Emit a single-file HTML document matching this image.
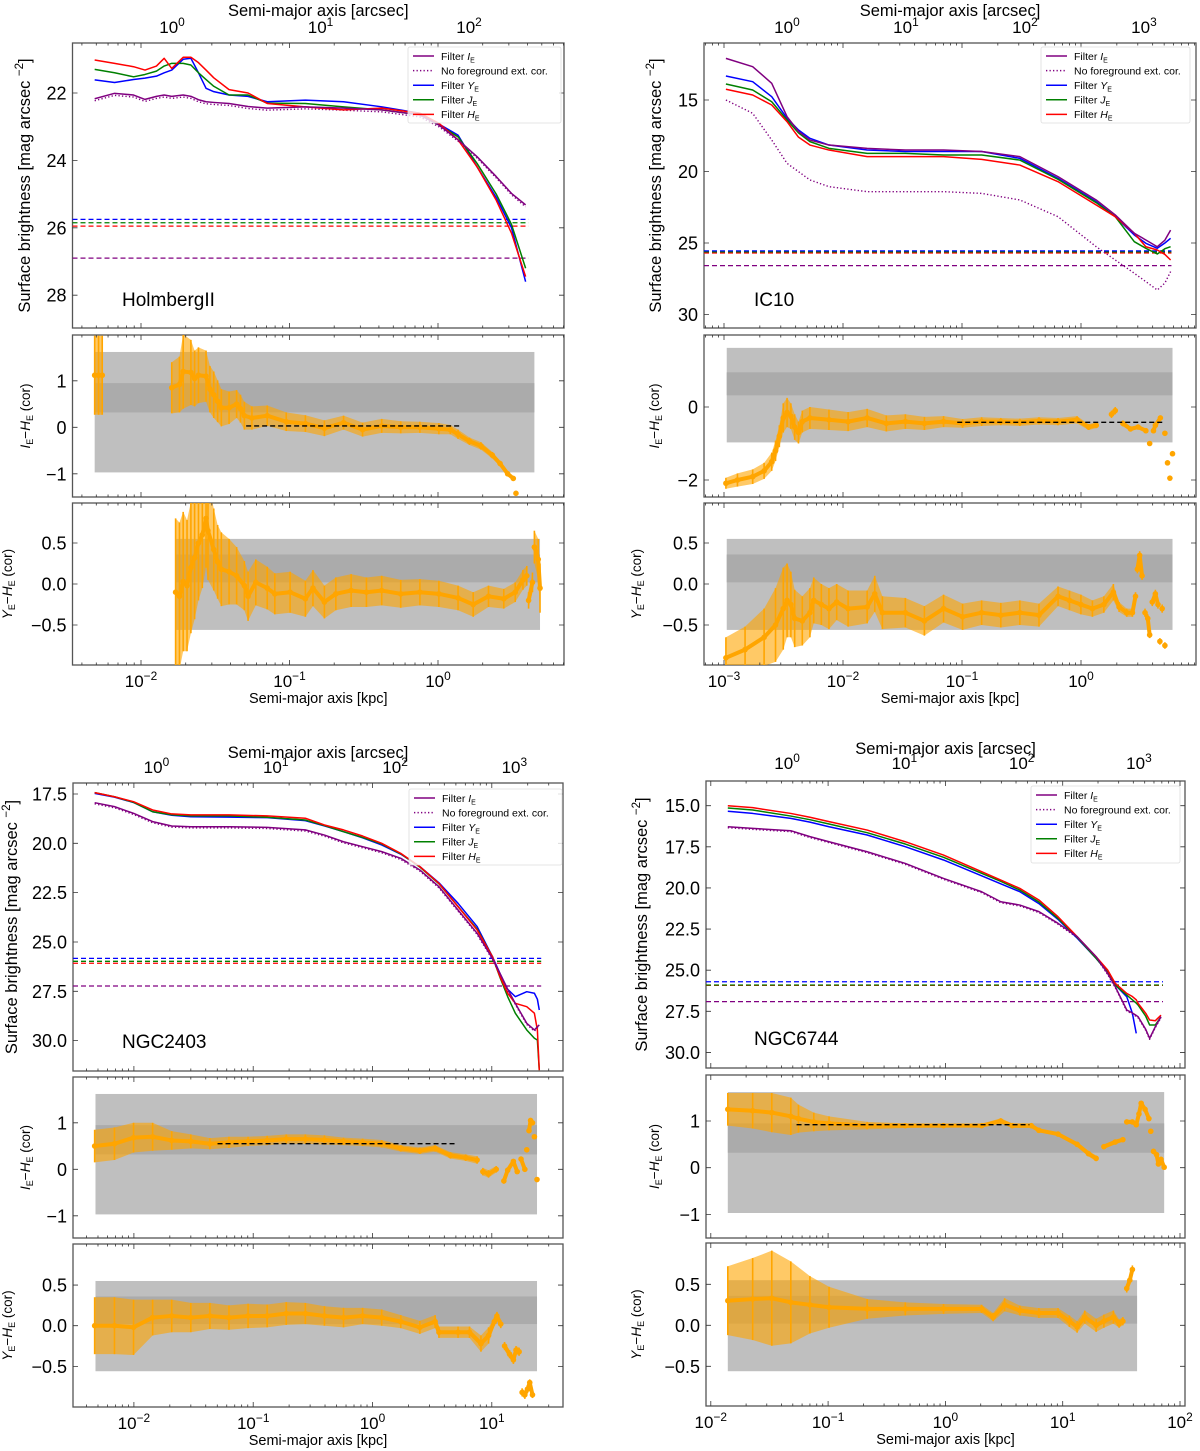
<!DOCTYPE html>
<html><head><meta charset="utf-8">
<style>
html,body{margin:0;padding:0;background:#fff;}
svg{display:block;font-family:"Liberation Sans","DejaVu Sans",sans-serif;}
</style></head>
<body>
<svg id="chart" width="1200" height="1451" viewBox="0 0 1200 1451" xmlns="http://www.w3.org/2000/svg"></svg>
<script>
// ===== HolmbergII =====
const hoMainLogR=[-2.312,-2.178,-2.050,-1.973,-1.896,-1.844,-1.793,-1.716,-1.664,-1.613,-1.562,-1.510,-1.407,-1.279,-1.150,-0.893,-0.636,-0.379,-0.122,0.006,0.135,0.263,0.392,0.495,0.590];
const hoI=[22.17,22.01,22.06,22.19,22.1,22.06,22.1,22.06,22.1,22.2,22.26,22.28,22.31,22.4,22.45,22.41,22.45,22.5,22.65,22.95,23.39,23.89,24.48,24.98,25.32];
const hoNoFg=[22.23,22.07,22.12,22.25,22.16,22.12,22.16,22.12,22.16,22.26,22.32,22.34,22.37,22.46,22.51,22.47,22.51,22.56,22.71,23.0,23.43,23.93,24.52,25.02,25.38];
const hoY=[21.61,21.69,21.6,21.56,21.5,21.4,21.32,21.0,20.97,21.4,21.86,21.96,22.06,22.1,22.26,22.21,22.26,22.41,22.6,22.92,23.25,24.19,25.1,26.0,27.6];
const hoJ=[21.3,21.4,21.52,21.45,21.35,21.2,21.12,21.12,21.17,21.4,21.6,21.8,22.06,22.06,22.3,22.31,22.41,22.5,22.65,22.95,23.3,24.09,25.0,25.9,27.2];
const hoH=[21.02,21.12,21.22,21.32,21.2,20.97,21.27,20.94,20.94,21.1,21.32,21.55,21.9,22.0,22.31,22.41,22.5,22.45,22.6,22.9,23.39,24.19,25.18,26.16,27.45];
const hoLimits=[26.9,25.75,25.85,25.95]; // I, Y, J, H
const hoR1LogR=[-2.312,-2.286,-2.261,-1.793,-1.741,-1.716,-1.664,-1.639,-1.613,-1.562,-1.536,-1.510,-1.484,-1.459,-1.407,-1.356,-1.330,-1.304,-1.253,-1.150,-1.022,-0.893,-0.765,-0.636,-0.508,-0.379,-0.251,-0.122,0.006,0.083,0.135,0.212,0.289,0.366,0.418,0.469,0.507,0.525];
const hoR1=[1.12,1.12,1.12,0.85,0.92,1.2,1.18,1.05,1.12,1.1,0.82,0.7,0.56,0.42,0.42,0.5,0.4,0.25,0.2,0.25,0.12,0.08,-0.02,0.1,-0.05,0.03,0.0,0.0,-0.03,-0.05,-0.15,-0.3,-0.4,-0.6,-0.78,-1.0,-1.1,-1.42];
const hoR1Err=[0.85,0.85,0.85,0.55,0.6,0.8,0.7,0.6,0.6,0.55,0.5,0.5,0.45,0.4,0.35,0.3,0.3,0.3,0.25,0.22,0.2,0.18,0.17,0.15,0.15,0.15,0.13,0.12,0.12,0.1,0.1,0.08,0.08,0.07,0.06,0.05,0.05,0.05];
const hoR1Fit=[-1.292,0.160,0.03];
const hoR2LogR=[-1.767,-1.741,-1.716,-1.690,-1.664,-1.639,-1.613,-1.587,-1.562,-1.549,-1.510,-1.484,-1.459,-1.407,-1.356,-1.304,-1.279,-1.227,-1.150,-1.099,-0.996,-0.893,-0.842,-0.765,-0.688,-0.585,-0.482,-0.379,-0.251,-0.122,0.006,0.135,0.237,0.340,0.443,0.520,0.572,0.598,0.610,0.636,0.649,0.675,0.687];
const hoR2=[-0.1,-0.15,0.03,-0.02,0.2,0.32,0.5,0.6,0.8,0.65,0.42,0.27,0.18,0.15,0.1,-0.02,-0.15,0.02,-0.05,-0.12,-0.1,-0.18,-0.05,-0.22,-0.12,-0.08,-0.1,-0.08,-0.12,-0.1,-0.12,-0.17,-0.25,-0.15,-0.18,-0.1,0.05,0.1,-0.2,0.02,0.45,0.3,-0.05];
const hoR2Err=[0.9,0.9,0.85,0.8,0.8,0.75,0.7,0.65,0.6,0.6,0.5,0.45,0.45,0.4,0.35,0.3,0.3,0.28,0.26,0.25,0.25,0.22,0.22,0.2,0.2,0.2,0.18,0.18,0.17,0.16,0.16,0.15,0.15,0.13,0.12,0.12,0.12,0.12,0.1,0.12,0.2,0.25,0.3];

// ===== IC10 =====
const icMainLogR=[-2.984,-2.759,-2.599,-2.470,-2.374,-2.278,-2.118,-1.797,-1.476,-1.155,-0.835,-0.514,-0.193,0.128,0.288,0.448,0.545,0.641,0.705,0.753];
const icI=[12.09,12.67,13.83,16.17,17.2,17.8,18.15,18.38,18.5,18.5,18.6,18.96,20.36,21.99,23.04,24.32,24.79,25.26,24.8,24.1];
const icNoFg=[15.0,15.93,17.8,19.43,20.01,20.59,21.06,21.41,21.41,21.41,21.53,21.99,23.16,25.26,26.19,27.12,27.7,28.29,27.8,27.0];
const icY=[13.32,13.72,14.77,16.28,17.1,17.68,18.15,18.5,18.6,18.6,18.6,19.08,20.48,22.11,23.16,24.44,25.02,25.37,25.0,24.67];
const icJ=[13.88,14.3,15.12,16.4,17.3,17.91,18.38,18.73,18.73,18.85,18.85,19.2,20.55,22.18,23.16,24.91,25.37,25.77,25.4,25.26];
const icH=[14.25,14.65,15.35,16.52,17.6,18.15,18.5,18.96,18.96,18.96,19.15,19.55,20.71,22.34,23.16,24.32,25.26,25.49,25.8,26.19];
const icLimits=[26.58,25.55,25.62,25.7];
const icR1LogR=[-2.984,-2.887,-2.759,-2.663,-2.599,-2.567,-2.535,-2.502,-2.470,-2.438,-2.406,-2.374,-2.342,-2.278,-2.118,-1.957,-1.797,-1.636,-1.476,-1.316,-1.155,-0.995,-0.835,-0.674,-0.514,-0.353,-0.193,-0.033,0.064,0.128,0.256,0.288,0.352,0.416,0.480,0.545,0.577,0.609,0.625,0.667,0.705,0.727,0.747,0.769];
const icR1=[-2.09,-2.0,-1.91,-1.75,-1.5,-1.2,-0.8,-0.3,-0.15,-0.25,-0.55,-0.7,-0.4,-0.3,-0.35,-0.4,-0.3,-0.45,-0.4,-0.45,-0.4,-0.45,-0.4,-0.4,-0.42,-0.38,-0.4,-0.35,-0.55,-0.5,-0.2,-0.1,-0.45,-0.6,-0.55,-0.65,-1.0,-0.65,-0.5,-0.3,-0.72,-1.53,-1.95,-1.28];
const icR1Err=[0.15,0.18,0.2,0.22,0.25,0.28,0.3,0.4,0.4,0.35,0.35,0.3,0.3,0.3,0.28,0.26,0.25,0.22,0.2,0.18,0.15,0.12,0.12,0.1,0.1,0.1,0.1,0.1,0.08,0.08,0.1,0.1,0.08,0.06,0.05,0.04,0.04,0.04,0.04,0.04,0.04,0.04,0.04,0.04];
const icR1Fit=[-1.04,0.705,-0.42];
const icR2LogR=[-2.984,-2.823,-2.663,-2.567,-2.502,-2.470,-2.438,-2.406,-2.342,-2.278,-2.246,-2.182,-2.118,-2.053,-1.957,-1.797,-1.733,-1.669,-1.476,-1.316,-1.155,-0.995,-0.835,-0.674,-0.514,-0.353,-0.193,-0.097,-0.001,0.096,0.192,0.272,0.320,0.384,0.432,0.458,0.474,0.493,0.513,0.538,0.561,0.577,0.599,0.625,0.647,0.663,0.682,0.705];
const icR2=[-0.9,-0.8,-0.65,-0.5,-0.3,-0.2,-0.25,-0.42,-0.45,-0.35,-0.2,-0.25,-0.3,-0.22,-0.3,-0.28,-0.12,-0.35,-0.35,-0.45,-0.3,-0.4,-0.35,-0.38,-0.35,-0.38,-0.15,-0.2,-0.25,-0.3,-0.25,-0.1,-0.28,-0.35,-0.35,-0.15,0.18,0.35,0.1,-0.35,-0.42,-0.62,-0.22,-0.12,-0.25,-0.7,-0.3,-0.75];
const icR2Err=[0.25,0.28,0.35,0.45,0.5,0.45,0.4,0.35,0.3,0.3,0.28,0.25,0.25,0.22,0.22,0.2,0.22,0.2,0.18,0.18,0.17,0.16,0.15,0.15,0.15,0.14,0.12,0.12,0.12,0.1,0.1,0.1,0.06,0.05,0.05,0.05,0.05,0.05,0.05,0.05,0.05,0.04,0.05,0.05,0.05,0.04,0.05,0.04];

// ===== NGC2403 =====
const n24MainLogR=[-2.329,-2.163,-2.003,-1.843,-1.683,-1.523,-1.203,-0.883,-0.563,-0.403,-0.243,-0.083,0.077,0.237,0.397,0.557,0.717,0.877,1.005,1.069,1.133,1.197,1.293,1.357,1.382,1.398];
const n24I=[17.94,18.14,18.48,18.9,19.12,19.16,19.16,19.19,19.32,19.58,19.92,20.17,20.42,20.76,21.35,22.2,23.38,24.56,25.83,26.6,27.4,28.11,29.12,29.46,29.3,29.2];
const n24NoFg=[18.0,18.2,18.54,18.96,19.18,19.22,19.22,19.25,19.38,19.64,19.98,20.23,20.48,20.82,21.41,22.26,23.44,24.62,25.89,26.66,27.46,28.17,29.18,29.52,29.36,29.26];
const n24Y=[17.47,17.66,17.93,18.4,18.58,18.65,18.67,18.7,18.85,19.12,19.41,19.72,20.08,20.55,21.18,22.0,23.04,24.22,25.74,26.6,27.4,27.77,27.52,27.6,27.9,28.45];
const n24J=[17.43,17.64,17.92,18.4,18.55,18.61,18.61,18.68,18.82,19.1,19.41,19.7,20.03,20.53,21.2,22.05,23.2,24.35,25.74,26.8,27.77,28.61,29.46,29.88,29.97,31.5];
const n24H=[17.43,17.64,17.89,18.31,18.51,18.56,18.56,18.61,18.73,19.07,19.32,19.63,20.0,20.51,21.18,22.03,23.21,24.39,25.74,26.76,27.6,28.11,28.28,28.61,29.46,31.5];
const n24Limits=[27.23,25.83,25.98,26.08];
const n24R1LogR=[-2.329,-2.163,-2.003,-1.843,-1.683,-1.523,-1.363,-1.203,-1.043,-0.883,-0.723,-0.563,-0.403,-0.243,-0.083,0.077,0.237,0.397,0.525,0.653,0.781,0.877,0.925,0.973,1.037,1.101,1.133,1.181,1.213,1.245,1.277,1.293,1.312,1.325,1.341,1.357,1.379];
const n24R1=[0.5,0.55,0.68,0.7,0.62,0.6,0.55,0.58,0.6,0.62,0.65,0.65,0.63,0.6,0.58,0.55,0.45,0.4,0.45,0.3,0.25,0.2,-0.05,-0.1,0.0,-0.25,-0.02,0.17,-0.05,0.22,0.0,0.42,0.83,1.05,1.0,0.7,-0.22];
const n24R1Err=[0.35,0.35,0.32,0.3,0.2,0.15,0.12,0.12,0.1,0.1,0.1,0.1,0.1,0.08,0.08,0.08,0.07,0.07,0.07,0.07,0.07,0.08,0.08,0.08,0.07,0.06,0.06,0.05,0.05,0.05,0.05,0.05,0.05,0.05,0.05,0.05,0.05];
const n24R1Fit=[-1.299,0.701,0.55];
const n24R2LogR=[-2.329,-2.163,-2.003,-1.843,-1.683,-1.523,-1.363,-1.203,-1.043,-0.883,-0.723,-0.563,-0.403,-0.243,-0.083,0.077,0.237,0.397,0.525,0.557,0.717,0.813,0.909,0.973,1.021,1.043,1.075,1.107,1.149,1.181,1.203,1.229,1.254,1.277,1.299,1.318,1.341];
const n24R2=[0.0,0.0,-0.02,0.1,0.12,0.1,0.12,0.1,0.12,0.12,0.15,0.15,0.12,0.1,0.12,0.1,0.05,-0.02,0.05,-0.08,-0.08,-0.08,-0.22,-0.12,0.05,0.12,0.02,-0.25,-0.35,-0.42,-0.3,-0.32,-0.82,-0.85,-0.78,-0.7,-0.85];
const n24R2Err=[0.35,0.35,0.34,0.22,0.2,0.18,0.16,0.15,0.15,0.14,0.14,0.13,0.12,0.12,0.1,0.1,0.08,0.08,0.08,0.07,0.07,0.07,0.1,0.1,0.05,0.05,0.05,0.05,0.05,0.05,0.05,0.05,0.05,0.05,0.05,0.04,0.04];

// ===== NGC6744 =====
const n67MainLogR=[-1.855,-1.643,-1.318,-1.155,-0.992,-0.667,-0.342,-0.016,0.309,0.472,0.635,0.797,0.960,1.123,1.285,1.383,1.448,1.546,1.594,1.627,1.643,1.708,1.741,1.790,1.838];
const n67I=[16.28,16.38,16.52,16.88,17.19,17.8,18.51,19.42,20.23,20.84,21.04,21.44,22.15,22.96,24.18,25.2,26.0,27.42,27.6,27.75,27.83,28.6,29.14,28.43,27.83];
const n67NoFg=[16.34,16.44,16.58,16.94,17.25,17.86,18.57,19.48,20.29,20.9,21.1,21.5,22.21,23.02,24.24,25.26,26.06,27.48,27.66,27.81,27.89,28.66,29.2,28.49,27.89];
const n67Y=[15.34,15.47,15.77,16.0,16.28,16.78,17.49,18.3,19.26,19.75,20.23,20.95,21.91,23.05,24.28,25.1,25.9,26.61,27.62,28.84,null,null,null,null,null];
const n67J=[15.14,15.26,15.63,15.85,16.11,16.64,17.33,18.14,19.11,19.6,20.13,20.85,21.85,23.0,24.28,25.1,25.9,26.51,26.8,27.0,27.12,27.8,28.33,28.33,27.83];
const n67H=[15.0,15.12,15.47,15.7,15.97,16.48,17.19,18.0,19.01,19.52,20.03,20.73,21.75,22.96,24.18,24.99,25.8,26.41,26.6,26.8,27.02,27.62,28.03,28.07,27.73];
const n67Limits=[26.91,25.7,25.9,25.92];
const n67R1LogR=[-1.855,-1.643,-1.480,-1.318,-1.253,-1.122,-0.992,-0.667,-0.342,-0.016,0.309,0.472,0.570,0.732,0.797,0.960,1.123,1.220,1.285,1.351,1.448,1.513,1.546,1.594,1.627,1.650,1.669,1.702,1.735,1.751,1.774,1.800,1.816,1.838,1.865];
const n67R1=[1.25,1.22,1.18,1.1,1.05,0.98,0.95,0.9,0.9,0.9,0.9,1.0,0.9,0.9,0.8,0.72,0.5,0.3,0.2,0.45,0.55,0.6,0.98,0.98,0.92,1.15,1.38,1.25,1.05,0.78,0.35,0.28,0.08,0.18,0.01];
const n67R1Err=[0.35,0.38,0.42,0.4,0.3,0.2,0.15,0.08,0.05,0.04,0.04,0.06,0.05,0.05,0.04,0.04,0.05,0.06,0.06,0.05,0.05,0.04,0.05,0.04,0.04,0.04,0.04,0.05,0.05,0.05,0.05,0.05,0.05,0.05,0.04];
const n67R1Fit=[-1.269,0.716,0.92];
const n67R2LogR=[-1.855,-1.643,-1.480,-1.318,-1.155,-0.992,-0.667,-0.342,-0.016,0.309,0.407,0.505,0.635,0.797,0.960,1.057,1.123,1.188,1.285,1.351,1.432,1.481,1.513,1.546,1.572,1.594];
const n67R2=[0.3,0.32,0.33,0.28,0.25,0.22,0.2,0.2,0.2,0.2,0.1,0.25,0.18,0.15,0.15,0.05,-0.02,0.1,0.0,0.05,0.1,0.02,0.05,0.45,0.55,0.68];
const n67R2Err=[0.42,0.5,0.58,0.5,0.35,0.25,0.12,0.08,0.06,0.05,0.05,0.08,0.06,0.06,0.06,0.07,0.07,0.08,0.08,0.08,0.08,0.05,0.05,0.05,0.05,0.05];

// ===== rendering =====
const NS='http://www.w3.org/2000/svg';
const svg=document.getElementById('chart');
function mk(tag,parent){const e=document.createElementNS(NS,tag);(parent||svg).appendChild(e);return e;}
function at(e,o){for(const k in o)e.setAttribute(k,o[k]);return e;}
const COL={I:'#800080',Y:'#0000ff',J:'#008000',H:'#ff0000',O:'#ffa500'};

const panels=[
 {key:'holmbergii',label:'HolmbergII',x0:72.5,x1:564,c:438,s:148.5,arcOff:1.791,arcT:[0,1,2],kT:[-2,-1,0],
  main:{top:43,bot:328,v0:22,p0:93,k:33.7,ticks:[22,24,26,28],dec:0},
  r1:{top:335,bot:497,p0:427.3,k:46.5,ticks:[1,0,-1],dec:0},
  r2:{top:503,bot:665,p0:584,k:82,ticks:[0.5,0,-0.5],dec:1},
  ylx:30,r1lx:30,r2lx:12,nameX:122,nameY:306,limEnd:0.610,
  band1:[-2.312,0.649],band2:[-1.767,0.687],
  leg:{x:408,y:47,w:153,h:76},topLab:16,topTick:33,
  d:{lr:hoMainLogR,I:hoI,N:hoNoFg,Y:hoY,J:hoJ,H:hoH,L:hoLimits,r1x:hoR1LogR,r1:hoR1,r1e:hoR1Err,fit:hoR1Fit,r2x:hoR2LogR,r2:hoR2,r2e:hoR2Err}},
 {key:'ic10',label:'IC10',x0:704,x1:1196,c:1081,s:119,arcOff:2.471,arcT:[0,1,2,3],kT:[-3,-2,-1,0],
  main:{top:43,bot:328,v0:15,p0:100,k:14.3,ticks:[15,20,25,30],dec:0},
  r1:{top:335,bot:497,p0:407,k:36.5,ticks:[0,-2],dec:0},
  r2:{top:503,bot:665,p0:584,k:82,ticks:[0.5,0,-0.5],dec:1},
  ylx:661,r1lx:659,r2lx:641,nameX:754,nameY:306,limEnd:0.760,
  band1:[-2.977,0.769],band2:[-2.977,0.769],
  leg:{x:1041,y:47,w:149,h:76},topLab:16,topTick:33,
  d:{lr:icMainLogR,I:icI,N:icNoFg,Y:icY,J:icJ,H:icH,L:icLimits,r1x:icR1LogR,r1:icR1,r1e:icR1Err,fit:icR1Fit,r2x:icR2LogR,r2:icR2,r2e:icR2Err}},
 {key:'ngc2403',label:'NGC2403',x0:73,x1:563,c:372.5,s:119.3,arcOff:1.811,arcT:[0,1,2,3],kT:[-2,-1,0,1],
  main:{top:783,bot:1071,v0:17.5,p0:794,k:19.73,ticks:[17.5,20,22.5,25,27.5,30],dec:1},
  r1:{top:1077,bot:1238,p0:1169.3,k:46.5,ticks:[1,0,-1],dec:0},
  r2:{top:1244,bot:1407,p0:1325.7,k:81.3,ticks:[0.5,0,-0.5],dec:1},
  ylx:17,r1lx:30,r2lx:12,nameX:122,nameY:1048,limEnd:1.414,
  band1:[-2.322,1.379],band2:[-2.322,1.379],
  leg:{x:409,y:789,w:153,h:76},topLab:758,topTick:773,
  d:{lr:n24MainLogR,I:n24I,N:n24NoFg,Y:n24Y,J:n24J,H:n24H,L:n24Limits,r1x:n24R1LogR,r1:n24R1,r1e:n24R1Err,fit:n24R1Fit,r2x:n24R2LogR,r2:n24R2,r2e:n24R2Err}},
 {key:'ngc6744',label:'NGC6744',x0:706,x1:1185,c:945.4,s:117.3,arcOff:1.350,arcT:[0,1,2,3],kT:[-2,-1,0,1,2],
  main:{top:781,bot:1068,v0:15,p0:805.7,k:16.45,ticks:[15,17.5,20,22.5,25,27.5,30],dec:1},
  r1:{top:1075,bot:1238,p0:1167.7,k:46.7,ticks:[1,0,-1],dec:0},
  r2:{top:1243,bot:1406,p0:1325.3,k:82,ticks:[0.5,0,-0.5],dec:1},
  ylx:647,r1lx:659,r2lx:641,nameX:754,nameY:1045,limEnd:1.855,
  band1:[-1.855,1.865],band2:[-1.855,1.634],
  leg:{x:1031,y:786,w:149,h:77},topLab:754,topTick:769,
  d:{lr:n67MainLogR,I:n67I,N:n67NoFg,Y:n67Y,J:n67J,H:n67H,L:n67Limits,r1x:n67R1LogR,r1:n67R1,r1e:n67R1Err,fit:n67R1Fit,r2x:n67R2LogR,r2:n67R2,r2e:n67R2Err}}
];

function fmt(v,dec){let s=v.toFixed(dec);return s.replace('-','\u2212');}
let clipId=0;
function frameClip(g,p,ax){
  const id='clip'+(clipId++);
  const cp=mk('clipPath',g);cp.setAttribute('id',id);
  at(mk('rect',cp),{x:p.x0,y:ax.top,width:p.x1-p.x0,height:ax.bot-ax.top});
  const inner=mk('g',g);inner.setAttribute('clip-path','url(#'+id+')');
  return inner;
}
function xTicks(g,p,ax){
  const X=l=>p.c+p.s*l;
  const lmin=(p.x0-p.c)/p.s,lmax=(p.x1-p.c)/p.s;
  for(let d=Math.floor(lmin);d<=Math.ceil(lmax);d++){
    for(let k=1;k<10;k++){
      const l=d+Math.log10(k);if(l<lmin||l>lmax)continue;
      const x=X(l),len=k===1?5:2.5;
      const t=mk('path',g);
      
      
      at(t,{d:`M${x},${ax.bot}v${-len}M${x},${ax.top}v${len}`,stroke:'#333','stroke-width':0.8});
    }
  }
}
function yTicks(g,p,ax,py,fs){
  ax.ticks.forEach(v=>{
    const y=py(v);
    const t=mk('path',g);
    
    
    at(t,{d:`M${p.x0},${y}h5M${p.x1},${y}h-5`,stroke:'#333','stroke-width':0.8});
    const tx=mk('text',g);
    
    
    at(tx,{x:p.x0-6,y:y+6.5,'text-anchor':'end','font-size':fs,fill:'#000'});
    tx.textContent=fmt(v,ax.dec);
  });
}
function frame(g,p,ax,name){
  const r=mk('rect',g);
  
  
  at(r,{x:p.x0,y:ax.top,width:p.x1-p.x0,height:ax.bot-ax.top,fill:'none',stroke:'#555','stroke-width':1.3});
}
function pow10(g,x,y,e,fs,name){
  const t=mk('text',g);
  
  
  at(t,{x:x,y:y,'text-anchor':'middle','font-size':fs,fill:'#000'});
  const a=mk('tspan',t);a.textContent='10';
  const b=mk('tspan',t);at(b,{dy:-7,'font-size':fs*0.7});b.textContent=String(e).replace('-','\u2212');
}
function resLabel(g,x,cy,first){
  const t=mk('text',g);
  
  
  at(t,{x:0,y:0,transform:`translate(${x},${cy}) rotate(-90)`,'text-anchor':'middle','font-size':13.5,fill:'#000'});
  const a=mk('tspan',t);a.setAttribute('font-style','italic');a.textContent=first;
  const b=mk('tspan',t);at(b,{'font-size':9,dy:3});b.textContent='E';
  const c=mk('tspan',t);at(c,{dy:-3});c.textContent='\u2212';
  const d=mk('tspan',t);d.setAttribute('font-style','italic');d.textContent='H';
  const e=mk('tspan',t);at(e,{'font-size':9,dy:3});e.textContent='E';
  const f=mk('tspan',t);at(f,{dy:-3});f.textContent=' (cor)';
}
function drawResidual(g,p,ax,xs,vs,es,band,fit,which){
  const X=l=>p.c+p.s*l,Y=v=>ax.p0-ax.k*v;
  const gg=mk('g',g);
  
  
  frame(gg,p,ax,which+'-frame');
  const inner=frameClip(gg,p,ax);
  const bl=mk('rect',inner);
  
  
  const wide=which==='ie-he'?[1.62,-0.97]:[0.55,-0.56];
  const narrow=which==='ie-he'?[0.95,0.32]:[0.36,0.02];
  at(bl,{x:X(band[0]),y:Y(wide[0]),width:X(band[1])-X(band[0]),height:Y(wide[1])-Y(wide[0]),fill:'#bfbfbf'});
  const bd=mk('rect',inner);
  
  
  at(bd,{x:X(band[0]),y:Y(narrow[0]),width:X(band[1])-X(band[0]),height:Y(narrow[1])-Y(narrow[0]),fill:'#ababab'});
  const linked=i=>i>0&&xs[i]-xs[i-1]<0.4&&(Math.abs(vs[i]-vs[i-1])<0.25||(es[i]>=0.15&&es[i-1]>=0.15));
  let seg=[];
  const flush=()=>{
    if(seg.length>1){
      const up=seg.map(i=>`${X(xs[i])},${Y(vs[i]+es[i])}`);
      const dn=seg.slice().reverse().map(i=>`${X(xs[i])},${Y(vs[i]-es[i])}`);
      const pg=mk('polygon',inner);
      
      
      at(pg,{points:up.concat(dn).join(' '),fill:COL.O,opacity:0.6});
    }
    seg=[];
  };
  for(let i=0;i<xs.length;i++){
    if(seg.length&&!linked(i))flush();
    seg.push(i);
  }
  flush();
  for(let i=0;i<xs.length;i++){
    const x=X(xs[i]);
    const b=mk('line',inner);
    
    
    at(b,{x1:x,x2:x,y1:Y(vs[i]+es[i]),y2:Y(vs[i]-es[i]),stroke:COL.O,'stroke-width':1.6});
  }
  let dpath='';
  for(let i=0;i<xs.length;i++){
    dpath+=(linked(i)?'L':'M')+X(xs[i])+','+Y(vs[i]);
  }
  const ln=mk('path',inner);
  
  
  at(ln,{d:dpath,stroke:COL.O,'stroke-width':4,fill:'none','stroke-linejoin':'round'});
  for(let i=0;i<xs.length;i++){
    const c=mk('circle',inner);
    
    
    at(c,{cx:X(xs[i]),cy:Y(vs[i]),r:2.8,fill:COL.O});
  }
  if(fit){
    const f=mk('line',inner);
    
    
    at(f,{x1:X(fit[0]),x2:X(fit[1]),y1:Y(fit[2]),y2:Y(fit[2]),stroke:'#000','stroke-width':1.4,'stroke-dasharray':'5,3'});
  }
  xTicks(gg,p,ax);
  yTicks(gg,p,ax,Y,18);
  resLabel(gg,which==='ie-he'?p.r1lx:p.r2lx,(ax.top+ax.bot)/2,which==='ie-he'?'I':'Y');
}

panels.forEach(p=>{
  const g=mk('g');
  
  
  const X=l=>p.c+p.s*l;
  const m=p.main,Ym=v=>m.p0+m.k*(v-m.v0);
  const d=p.d;
  const mg=mk('g',g);
  
  
  frame(mg,p,m,'main-frame');
  const inner=frameClip(mg,p,m);
  const limCols=[COL.I,COL.Y,COL.J,COL.H],limNames=['limit-ie','limit-ye','limit-je','limit-he'];
  [3,2,1,0].forEach(i=>{
    const l=mk('line',inner);
    
    
    at(l,{x1:p.x0,x2:X(p.limEnd),y1:Ym(d.L[i]),y2:Ym(d.L[i]),stroke:limCols[i],'stroke-width':1.3,'stroke-dasharray':'5,3'});
  });
  const series=[['N',COL.I,'no-foreground-ext-cor-line',true],['Y',COL.Y,'filter-ye-line'],['J',COL.J,'filter-je-line'],['H',COL.H,'filter-he-line'],['I',COL.I,'filter-ie-line']];
  series.forEach(([k,col,nm,dot])=>{
    let s='',pen=false;
    d.lr.forEach((l,i)=>{const v=d[k][i];if(v===null){pen=false;return;}s+=(pen?'L':'M')+X(l)+','+Ym(v);pen=true;});
    const pa=mk('path',inner);
    
    
    at(pa,{d:s,stroke:col,'stroke-width':dot?1.4:1.5,fill:'none','stroke-linejoin':'round'});
    if(dot)pa.setAttribute('stroke-dasharray','1.3,2.2');
  });
  xTicks(mg,p,m);
  yTicks(mg,p,m,Ym,18);
  const nmT=mk('text',mg);
  
  
  at(nmT,{x:p.nameX,y:p.nameY,'font-size':19,fill:'#000'});
  nmT.textContent=p.label;
  const yt=mk('text',mg);
  
  
  at(yt,{x:0,y:0,transform:`translate(${p.ylx},${(m.top+m.bot)/2}) rotate(-90)`,'text-anchor':'middle','font-size':16.5,fill:'#000'});
  const y1=mk('tspan',yt);y1.textContent='Surface brightness [mag arcsec ';
  const y2=mk('tspan',yt);at(y2,{dy:-7,'font-size':11.5});y2.textContent='\u22122';
  const y3=mk('tspan',yt);at(y3,{dy:7});y3.textContent=']';
  p.arcT.forEach(a=>pow10(mg,X(a-p.arcOff),p.topTick,a,17,'arcsec-tick-label'));
  const tt=mk('text',mg);
  
  
  at(tt,{x:(p.x0+p.x1)/2,y:p.topLab,'text-anchor':'middle','font-size':16.5,fill:'#000'});
  tt.textContent='Semi-major axis [arcsec]';
  const lg=mk('g',mg);
  
  
  at(mk('rect',lg),{x:p.leg.x,y:p.leg.y,width:p.leg.w,height:p.leg.h,fill:'#fff','fill-opacity':0.8,stroke:'#ddd','stroke-width':0.8,rx:2});
  const ents=[[COL.I,false,'Filter ','I'],[COL.I,true,'No foreground ext. cor.',null],[COL.Y,false,'Filter ','Y'],[COL.J,false,'Filter ','J'],[COL.H,false,'Filter ','H']];
  ents.forEach((e,i)=>{
    const yy=p.leg.y+9+i*14.6;
    const ent=mk('g',lg);
    
    
    const ll=mk('line',ent);
    at(ll,{x1:p.leg.x+5,x2:p.leg.x+26,y1:yy,y2:yy,stroke:e[0],'stroke-width':1.5});
    if(e[1])ll.setAttribute('stroke-dasharray','1.3,2.2');
    const tx=mk('text',ent);
    at(tx,{x:p.leg.x+33,y:yy+3.8,'font-size':10.5,fill:'#000'});
    const a=mk('tspan',tx);a.textContent=e[2];
    if(e[3]){const b=mk('tspan',tx);b.setAttribute('font-style','italic');b.textContent=e[3];
      const c=mk('tspan',tx);at(c,{'font-size':7,dy:2.5});c.textContent='E';}
  });
  drawResidual(g,p,p.r1,d.r1x,d.r1,d.r1e,p.band1,d.fit,'ie-he');
  drawResidual(g,p,p.r2,d.r2x,d.r2,d.r2e,p.band2,null,'ye-he');
  p.kT.forEach(k=>pow10(g,X(k),p.r2.bot+22,k,17,'kpc-tick-label'));
  const bt=mk('text',g);
  
  
  at(bt,{x:(p.x0+p.x1)/2,y:p.r2.bot+38,'text-anchor':'middle','font-size':14.5,fill:'#000'});
  bt.textContent='Semi-major axis [kpc]';
});
</script>
</body></html>
